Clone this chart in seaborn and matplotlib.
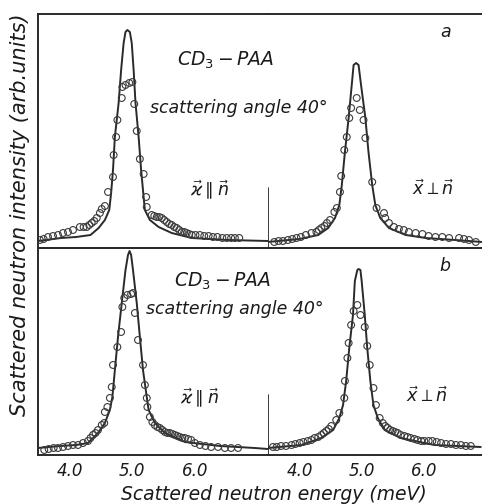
import numpy as np
import pandas as pd
import matplotlib
matplotlib.use('Agg')
import matplotlib.pyplot as plt
import seaborn as sns

sns.set_style('white')
plt.rcParams['font.family'] = ['DejaVu Sans']
plt.rcParams['mathtext.fontset'] = 'dejavusans'
plt.rcParams['axes.unicode_minus'] = True

# ---- data (energy in meV, intensity in arb. units) ----
# panel a, kappa || n
a_par_line_E = [3.49, 3.86, 4.10, 4.33, 4.46, 4.56, 4.63, 4.66, 4.69, 4.72, 4.78, 4.82, 4.86,
                4.89, 4.92, 4.96, 4.99, 5.02, 5.05, 5.10, 5.14, 5.18, 5.20, 5.28, 5.42,
                5.63, 5.95, 6.53, 7.17]
a_par_line_I = [7, 10, 11, 13, 20, 28, 38, 55, 78, 111, 145, 178, 205,
                216, 218, 216, 205, 178, 145, 111, 78, 51, 38, 28, 21,
                15, 10, 8, 7]
a_par_pts_E = [3.52, 3.58, 3.65, 3.73, 3.81, 3.89, 3.97, 4.05, 4.16, 4.22, 4.27, 4.31, 4.35,
               4.39, 4.43, 4.48, 4.51, 4.56, 4.61, 4.69, 4.70, 4.74, 4.76, 4.83, 4.84,
               4.89, 4.95, 5.00, 5.03, 5.07, 5.12, 5.18, 5.22, 5.23, 5.31, 5.35, 5.39,
               5.43, 5.47, 5.51, 5.55, 5.59, 5.63, 5.67, 5.71, 5.75, 5.79, 5.83, 5.87,
               5.91, 5.95, 6.01, 6.08, 6.15, 6.22, 6.29, 6.36, 6.44, 6.51, 6.58, 6.64, 6.71]
a_par_pts_I = [8, 9, 11, 12, 13, 15, 16, 18, 21, 21, 21, 23, 25,
               27, 30, 35, 39, 42, 56, 71, 93, 111, 128, 150, 161,
               163, 165, 166, 144, 117, 89, 74, 51, 41, 33, 32, 31,
               31, 30, 28, 26, 24, 23, 21, 20, 18, 16, 16, 15,
               14, 13, 13, 13, 12, 12, 11, 11, 10, 10, 10, 10, 10]

# panel a, kappa _|_ n
a_perp_line_E = [3.47, 3.99, 4.29, 4.45, 4.56, 4.63, 4.67, 4.72, 4.78, 4.83, 4.86, 4.90,
                 4.94, 4.98, 5.05, 5.10, 5.16, 5.21, 5.29, 5.43, 5.70, 6.02, 6.50, 6.93]
a_perp_line_I = [6, 9, 13, 20, 30, 43, 63, 96, 130, 163, 183, 185,
                 183, 163, 130, 96, 63, 43, 30, 20, 13, 10, 8, 6]
a_perp_pts_E = [3.58, 3.65, 3.72, 3.80, 3.87, 3.94, 4.01, 4.09, 4.18, 4.26, 4.30, 4.34,
                4.39, 4.43, 4.48, 4.55, 4.59, 4.64, 4.66, 4.71, 4.75, 4.79, 4.82, 4.91,
                4.96, 5.02, 5.05, 5.16, 5.23, 5.35, 5.37, 5.43, 5.51, 5.59, 5.67, 5.75,
                5.86, 5.97, 6.07, 6.18, 6.29, 6.40, 6.56, 6.64, 6.72, 6.83]
a_perp_pts_I = [6, 7, 7, 8, 9, 10, 11, 13, 15, 16, 18, 20,
                22, 25, 28, 36, 40, 56, 72, 98, 111, 130, 140, 150,
                138, 128, 110, 66, 40, 35, 30, 25, 21, 19, 18, 16,
                15, 14, 12, 11, 11, 10, 10, 9, 8, 6]

# panel b, kappa || n
b_par_line_E = [3.49, 3.84, 4.10, 4.29, 4.45, 4.56, 4.64, 4.68, 4.72, 4.77, 4.83, 4.89, 4.93,
                4.955, 4.98, 5.01, 5.07, 5.12, 5.17, 5.23, 5.26, 5.36, 5.52, 5.84, 6.40,
                6.96, 7.17]
b_par_line_I = [7, 9, 10, 12, 22, 32, 45, 58, 85, 118, 152, 185, 200,
                204, 200, 185, 152, 118, 85, 58, 45, 32, 22, 13, 9,
                7, 6]
b_par_pts_E = [3.59, 3.66, 3.74, 3.81, 3.89, 3.97, 4.05, 4.13, 4.21, 4.29, 4.33, 4.37, 4.41,
               4.45, 4.51, 4.55, 4.56, 4.60, 4.64, 4.67, 4.69, 4.76, 4.82, 4.84, 4.87,
               4.92, 4.98, 5.01, 5.04, 5.09, 5.17, 5.20, 5.23, 5.24, 5.28, 5.32, 5.36,
               5.40, 5.44, 5.48, 5.52, 5.56, 5.60, 5.64, 5.68, 5.72, 5.76, 5.80, 5.84,
               5.89, 5.94, 6.00, 6.08, 6.17, 6.26, 6.37, 6.48, 6.58, 6.69]
b_par_pts_I = [5, 6, 7, 7, 8, 9, 10, 10, 12, 14, 17, 20, 22,
               25, 30, 32, 43, 48, 57, 68, 90, 108, 123, 148, 157,
               160, 161, 162, 142, 115, 90, 70, 57, 48, 38, 33, 30,
               28, 27, 25, 23, 22, 22, 21, 20, 19, 18, 17, 17,
               16, 15, 12, 10, 9, 8, 8, 7, 7, 7]

# panel b, kappa _|_ n
b_perp_line_E = [3.48, 4.02, 4.34, 4.53, 4.63, 4.69, 4.74, 4.79, 4.85, 4.88, 4.92, 4.94,
                 4.97, 4.99, 5.04, 5.08, 5.13, 5.18, 5.25, 5.36, 5.62, 6.16, 6.91]
b_perp_line_I = [7, 10, 17, 25, 37, 50, 74, 107, 140, 174, 185, 186,
                 185, 174, 140, 107, 74, 50, 37, 25, 17, 10, 8]
b_perp_pts_E = [3.56, 3.62, 3.69, 3.77, 3.86, 3.92, 3.99, 4.05, 4.12, 4.18, 4.23, 4.29,
                4.34, 4.38, 4.42, 4.46, 4.50, 4.58, 4.63, 4.71, 4.72, 4.76, 4.78, 4.82,
                4.86, 4.92, 4.97, 5.04, 5.08, 5.12, 5.18, 5.22, 5.28, 5.33, 5.37, 5.41,
                5.45, 5.49, 5.53, 5.57, 5.62, 5.68, 5.73, 5.78, 5.84, 5.89, 5.95, 6.00,
                6.07, 6.13, 6.20, 6.27, 6.35, 6.43, 6.51, 6.59, 6.67, 6.75]
b_perp_pts_I = [8, 8, 9, 9, 10, 11, 12, 13, 14, 15, 17, 18,
                20, 22, 24, 26, 29, 35, 42, 57, 74, 97, 112, 130,
                144, 150, 140, 128, 109, 90, 67, 50, 37, 32, 29, 27,
                25, 24, 23, 22, 20, 19, 18, 17, 16, 15, 14, 14,
                14, 14, 13, 12, 11, 11, 10, 10, 9, 9]

tick_pos = [4.0, 4.5, 5.0, 5.5, 6.0, 6.5]
tick_lab = ['4.0', '', '5.0', '', '6.0', '']

INK = '#2a2a2a'
W, H = 482, 504


def fx(px):
    return px / W


def fy(py):
    return 1 - py / H


fig = plt.figure(figsize=(4.82, 5.04), dpi=100)

# axes boxes in pixel coordinates of the reference: (left, top, right, bottom)
boxes = {
    'a_par': (38, 14, 268, 248), 'a_perp': (268, 14, 482, 248),
    'b_par': (38, 248, 268, 455), 'b_perp': (268, 248, 482, 455),
}
panels = {
    'a_par': (a_par_line_E, a_par_line_I, a_par_pts_E, a_par_pts_I, (3.49, 7.17), 234),
    'a_perp': (a_perp_line_E, a_perp_line_I, a_perp_pts_E, a_perp_pts_I, (3.48, 6.93), 234),
    'b_par': (b_par_line_E, b_par_line_I, b_par_pts_E, b_par_pts_I, (3.49, 7.17), 207),
    'b_perp': (b_perp_line_E, b_perp_line_I, b_perp_pts_E, b_perp_pts_I, (3.48, 6.93), 207),
}

axes = {}
for key, (l, t, r, b) in boxes.items():
    ax = fig.add_axes([fx(l), fy(b), (r - l) / W, (b - t) / H])
    lE, lI, pE, pI, xlim, ytop = panels[key]
    line_df = pd.DataFrame({'E': lE, 'I': lI})
    pts_df = pd.DataFrame({'E': pE, 'I': pI})
    sns.lineplot(data=line_df, x='E', y='I', ax=ax, color=INK, lw=1.4,
                 estimator=None, sort=False)
    sns.scatterplot(data=pts_df, x='E', y='I', ax=ax, marker='o', s=24,
                    facecolor='none', edgecolor='#3a3a3a', linewidth=0.8, zorder=3)
    ax.set_xlim(*xlim)
    ax.set_ylim(0, ytop)
    ax.set_xlabel('')
    ax.set_ylabel('')
    ax.set_yticks([])
    ax.set_xticks(tick_pos)
    if key.startswith('b'):
        ax.set_xticklabels(tick_lab)
    else:
        ax.set_xticklabels([])
    ax.tick_params(axis='x', direction='in', length=5, width=1.1, color=INK,
                   pad=5, labelsize=12, labelcolor='#1a1a1a')
    for lab in ax.get_xticklabels():
        lab.set_fontstyle('italic')
    for s in ax.spines.values():
        s.set_linewidth(1.4)
        s.set_color(INK)
    ax.spines['right'].set_visible(False)
    if key.endswith('perp'):
        ax.spines['left'].set_visible(False)
        # short divider rising from the baseline
        ax.axvline(xlim[0] + 0.004, ymin=0, ymax=60 / ytop, color=INK, lw=1.3)
    ax.patch.set_alpha(0)
    axes[key] = ax

txt = dict(fontsize=12.5, color='#1a1a1a', ha='center', va='center')
it = dict(txt, fontstyle='italic')
big = dict(txt, fontsize=13.5)

# panel a annotations
fig.text(fx(226), fy(60), r'$CD_3-PAA$', **big)
fig.text(fx(239), fy(108), 'scattering angle 40°', **it)
fig.text(fx(446), fy(32), 'a', **it)
fig.text(fx(210), fy(190), r'$\vec{\varkappa}\parallel\vec{n}$', **txt)
fig.text(fx(433), fy(189), r'$\vec{x}\perp\vec{n}$', **txt)

# panel b annotations
fig.text(fx(223), fy(281), r'$CD_3-PAA$', **big)
fig.text(fx(235), fy(309), 'scattering angle 40°', **it)
fig.text(fx(445), fy(266), 'b', **it)
fig.text(fx(200), fy(398), r'$\vec{\varkappa}\parallel\vec{n}$', **txt)
fig.text(fx(427), fy(396), r'$\vec{x}\perp\vec{n}$', **txt)

fig.text(fx(274), fy(494), 'Scattered neutron energy (meV)', **dict(it, fontsize=13.5))
fig.text(fx(20), fy(215), 'Scattered neutron intensity (arb.units)', rotation=90,
         **dict(it, fontsize=15))

fig.savefig('out.png', dpi=100, facecolor='white')
